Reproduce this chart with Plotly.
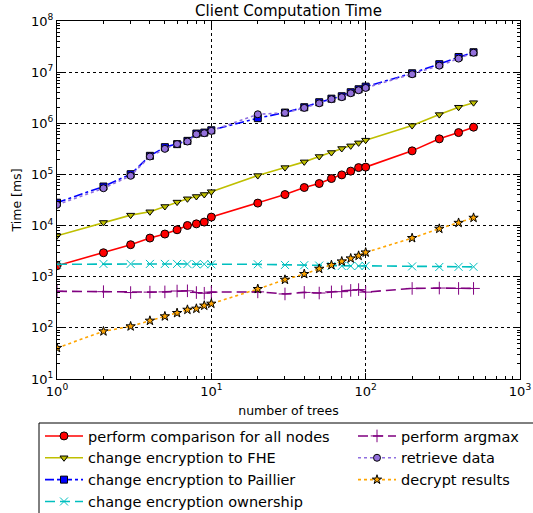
import plotly.graph_objects as go

trees = [1, 2, 3, 4, 5, 6, 7, 8, 9, 10, 20, 30, 40, 50, 60, 70, 80, 90, 100, 200, 300, 400, 500]

comparison = [1640, 2940, 4220, 5700, 6830, 8280, 10040, 10800, 11700, 14650, 27500,
              40400, 55500, 66400, 83100, 98000, 116000, 136000, 139000, 289000, 496000, 658000, 839000]
fhe = [6320, 11500, 16000, 18600, 23600, 28800, 33400, 37000, 40500, 46000, 95000,
       136000, 176000, 224000, 268000, 321000, 362000, 414000, 468000, 902000, 1480000, 2060000, 2530000]
paillier = [28000, 58000, 101000, 231000, 341000, 391000, 453000, 630000, 658000, 730000, 1260000,
            1620000, 2060000, 2580000, 3030000, 3380000, 4050000, 4630000, 5210000, 9500000, 14300000, 19800000, 24500000]
ownership = [1750, 1780, 1780, 1780, 1780, 1780, 1770, 1750, 1760, 1750, 1750,
             1700, 1680, 1650, 1630, 1620, 1620, 1620, 1630, 1590, 1550, 1560, 1560]
argmax = [520, 510, 490, 500, 505, 525, 530, 490, 475, 500, 505,
          460, 493, 480, 505, 510, 540, 560, 500, 590, 600, 590, 590]
retrieve = [25500, 53700, 94000, 224000, 316000, 392000, 440000, 611000, 640000, 711000, 1500000,
            1600000, 2000000, 2460000, 2960000, 3240000, 3870000, 4430000, 4910000, 9100000, 13400000, 18400000, 24000000]
decrypt = [40.5, 85.5, 107, 138, 168, 195, 226, 237, 272, 297, 575,
           873, 1130, 1430, 1690, 1990, 2280, 2570, 2980, 5700, 8670, 11300, 14200]

names = ["perform comparison for all nodes", "change encryption to FHE", "change encryption to Paillier",
         "change encryption ownership", "perform argmax", "retrieve data", "decrypt results"]

x_tickvals = [1, 10, 100, 1000]
x_ticktext = ["10<sup>0</sup>", "10<sup>1</sup>", "10<sup>2</sup>", "10<sup>3</sup>"]
y_tickvals = [10, 100, 1e3, 1e4, 1e5, 1e6, 1e7, 1e8]
y_ticktext = ["10<sup>1</sup>", "10<sup>2</sup>", "10<sup>3</sup>", "10<sup>4</sup>",
              "10<sup>5</sup>", "10<sup>6</sup>", "10<sup>7</sup>", "10<sup>8</sup>"]

FONT = "DejaVu Sans"
fig = go.Figure()

def add(y, name, color, dash, symbol, mfill, mline, size, rank, legend):
    fig.add_trace(go.Scatter(
        x=trees, y=y, name=name, mode="lines+markers",
        line=dict(color=color, width=1.6, dash=dash),
        marker=dict(symbol=symbol, size=size, color=mfill,
                    line=dict(color=mline, width=1)),
        legendrank=rank, legendgroup=name, legend=legend))

add(comparison, names[0], "#ff0000", "solid", "circle", "#ff0000", "black", 8, 1, "legend")
add(fhe, names[1], "#bfbf00", "solid", "triangle-down", "#bfbf00", "black", 7, 2, "legend")
add(paillier, names[2], "#0000ff", "dashdot", "square", "#0000ff", "black", 7, 3, "legend")
add(ownership, names[3], "#00bfbf", "10px,5px", "x-thin", "#00bfbf", "#00bfbf", 8, 4, "legend")
add(argmax, names[4], "#800080", "10px,5px", "cross-thin", "#800080", "#800080", 9, 5, "legend2")
add(retrieve, names[5], "#8f6fe0", "dot", "circle", "#9370db", "black", 7, 6, "legend2")
add(decrypt, names[6], "#ffa500", "dot", "star", "#ffa500", "black", 7, 7, "legend2")

axis_common = dict(
    type="log", showline=True, linecolor="black", linewidth=1, mirror="allticks",
    ticks="inside", ticklen=6, tickcolor="black", tickwidth=1,
    showgrid=True, gridcolor="black", griddash="dot", gridwidth=1,
    tickfont=dict(family=FONT, size=13, color="black"),
    minor=dict(ticks="inside", ticklen=3, tickcolor="black", dtick="D1", showgrid=False),
)

leg_common = dict(yanchor="top", orientation="v", traceorder="grouped", tracegroupgap=0,
                  itemwidth=38, bgcolor="rgba(0,0,0,0)", borderwidth=0,
                  font=dict(family=FONT, size=14.5))

fig.update_layout(
    width=533, height=513,
    margin=dict(l=57, r=13, t=21, b=134, autoexpand=False),
    paper_bgcolor="white", plot_bgcolor="white",
    font=dict(family=FONT, color="black"),
    title=dict(text="Client Computation Time", x=0.5, xref="paper", xanchor="center",
               y=1 - 11 / 513, yanchor="middle", font=dict(family=FONT, size=15)),
    xaxis=dict(axis_common, range=[0, 3], tickvals=x_tickvals, ticktext=x_ticktext,
               title=dict(text="number of trees", font=dict(family=FONT, size=12.5), standoff=8)),
    yaxis=dict(axis_common, range=[1, 8], tickvals=y_tickvals, ticktext=y_ticktext,
               title=dict(text="Time [ms]", font=dict(family=FONT, size=12.5), standoff=6)),
    legend=dict(leg_common, x=(40 - 57) / 463, y=(379 - 420) / 358, xanchor="left"),
    legend2=dict(leg_common, x=(353 - 57) / 463, y=(379 - 420) / 358, xanchor="left"),
    shapes=[dict(type="rect", xref="paper", yref="paper",
                 x0=(39 - 57) / 463, x1=1.2, y0=(379 - 423) / 358, y1=-0.6,
                 line=dict(color="black", width=1), fillcolor="rgba(0,0,0,0)")],
)

fig.write_html("out.html")
